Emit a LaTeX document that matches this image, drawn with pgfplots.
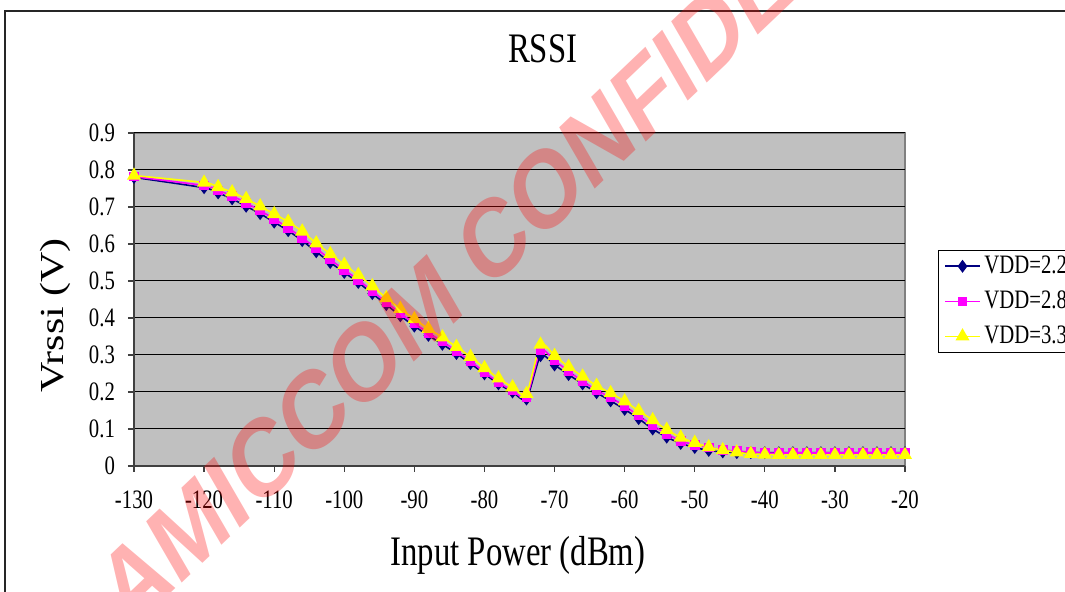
\documentclass[border=0pt]{standalone}
\usepackage{pgfplots}
\pgfplotsset{compat=1.18}
\usepackage{fontspec}
\setmainfont{Liberation Serif}[FakeStretch=0.78]
\newfontfamily\plainserif{Liberation Serif}
\newfontfamily\wmfont{Liberation Sans}[BoldFont={* Bold}]
\definecolor{plotgray}{RGB}{192,192,192}
\definecolor{bordergray}{RGB}{128,128,128}
\definecolor{vddnavy}{RGB}{0,0,128}
\definecolor{vddmag}{RGB}{255,0,255}
\definecolor{vddyel}{RGB}{255,255,0}

\pgfplotstableread{
x     v22    v28    v33
-130  0.780  0.782  0.785
-120  0.752  0.758  0.766
-118  0.738  0.745  0.754
-116  0.722  0.730  0.740
-114  0.702  0.711  0.722
-112  0.682  0.690  0.702
-110  0.659  0.668  0.681
-108  0.636  0.643  0.660
-106  0.609  0.617  0.634
-104  0.579  0.588  0.602
-102  0.550  0.558  0.573
-100  0.523  0.530  0.544
-98   0.496  0.503  0.516
-96   0.466  0.473  0.486
-94   0.436  0.442  0.454
-92   0.406  0.413  0.425
-90   0.378  0.385  0.397
-88   0.353  0.360  0.371
-86   0.329  0.336  0.348
-84   0.304  0.311  0.322
-82   0.277  0.283  0.295
-80   0.249  0.254  0.265
-78   0.222  0.226  0.237
-76   0.200  0.204  0.213
-74   0.181  0.187  0.195
-72   0.298  0.312  0.328
-70   0.273  0.285  0.298
-68   0.247  0.256  0.268
-66   0.222  0.229  0.242
-64   0.198  0.205  0.217
-62   0.176  0.185  0.197
-60   0.153  0.162  0.175
-58   0.128  0.136  0.149
-56   0.100  0.110  0.124
-54   0.078  0.087  0.098
-52   0.061  0.068  0.077
-50   0.050  0.057  0.063
-48   0.042  0.050  0.051
-46   0.038  0.044  0.043
-44   0.036  0.040  0.037
-42   0.036  0.038  0.033
-40   0.036  0.035  0.031
-38   0.036  0.035  0.030
-36   0.036  0.035  0.030
-34   0.036  0.035  0.030
-32   0.036  0.035  0.030
-30   0.036  0.035  0.030
-28   0.036  0.035  0.030
-26   0.036  0.035  0.030
-24   0.036  0.035  0.030
-22   0.036  0.035  0.030
-20   0.036  0.035  0.030
}\rssidata

\begin{document}
\begin{tikzpicture}
\begin{axis}[
    at={(0,0)}, anchor=south west,
    scale only axis,
    width=385.5pt, height=166.5pt,
    xmin=-130, xmax=-20, ymin=0, ymax=0.9,
    clip=false,
    axis x line*=bottom, axis y line*=left,
    axis line style={line width=1pt, color=black!75},
    axis background/.style={fill=plotgray, draw=bordergray, line width=0.6pt},
    xtick={-130,-120,-110,-100,-90,-80,-70,-60,-50,-40,-30,-20},
    xticklabels={-130,-120,-110,-100,-90,-80,-70,-60,-50,-40,-30,-20},
    ytick={0,0.1,0.2,0.3,0.4,0.5,0.6,0.7,0.8,0.9},
    yticklabels={0,0.1,0.2,0.3,0.4,0.5,0.6,0.7,0.8,0.9},
    tick align=outside,
    major tick length=3pt,
    tick style={line width=0.6pt, color=black!75},
    ymajorgrids,
    major grid style={line width=0.5pt, color=black},
    ticklabel style={font=\fontsize{13.3}{16}\selectfont},
    xticklabel style={yshift=-6pt},
    yticklabel style={xshift=-3pt},
    title={RSSI},
    title style={font=\fontsize{21}{24}\selectfont, at={(axis description cs:0.530,1.216)}, anchor=center},
    xlabel={Input Power (dBm)},
    xlabel style={font=\fontsize{21}{24}\selectfont, at={(axis description cs:0.498,-0.267)}, anchor=center},
    ylabel={Vrssi (V)},
    ylabel style={font=\plainserif\fontsize{21}{24}\selectfont, at={(axis description cs:-0.102,0.452)}, anchor=center, yscale=0.8},
    legend style={at={(rel axis cs:1.043,0.649)}, anchor=north west,
        font=\fontsize{13.3}{15}\selectfont, draw=black, fill=white,
        line width=0.5pt, inner xsep=3pt, inner ysep=0.8pt, row sep=3.2pt,
        cells={anchor=west}},
    legend image code/.code={
        \draw[mark repeat=2, mark phase=2, #1] plot coordinates {(0cm,0cm) (0.3cm,0cm) (0.6cm,0cm)};
    },
    every axis plot/.append style={line width=0.8pt, smooth, tension=0.4},
]
\addplot[color=vddnavy, mark=diamond*, mark size=2.6pt, mark options={fill=vddnavy, draw=vddnavy}] table[x=x, y=v22] {\rssidata};
\addplot[color=vddmag, mark=square*, mark size=2pt, mark options={fill=vddmag, draw=vddmag}] table[x=x, y=v28] {\rssidata};
\addplot[color=vddyel, mark=triangle*, mark size=3.3pt, mark options={fill=vddyel, draw=vddyel}] table[x=x, y=v33] {\rssidata};
\legend{VDD=2.2, VDD=2.8, VDD=3.3}
\end{axis}
% outer chart frame (cropped on the right and bottom)
\draw[line width=1pt, color=black!85] (-64.5pt,-80pt) -- (-64.5pt,227.5pt) -- (480pt,227.5pt);
% watermark
\begin{scope}[xscale=0.78]
\node[rotate=36.6, transform shape, text=red, opacity=0.3, font=\wmfont\bfseries\fontsize{55.5}{60}\selectfont] at (265.5pt,139.5pt) {AMICCOM CONFIDENTIAL};
\end{scope}
\pgfresetboundingbox
\useasboundingbox (-67pt,-63pt) rectangle (465.5pt,233pt);
\end{tikzpicture}
\end{document}
